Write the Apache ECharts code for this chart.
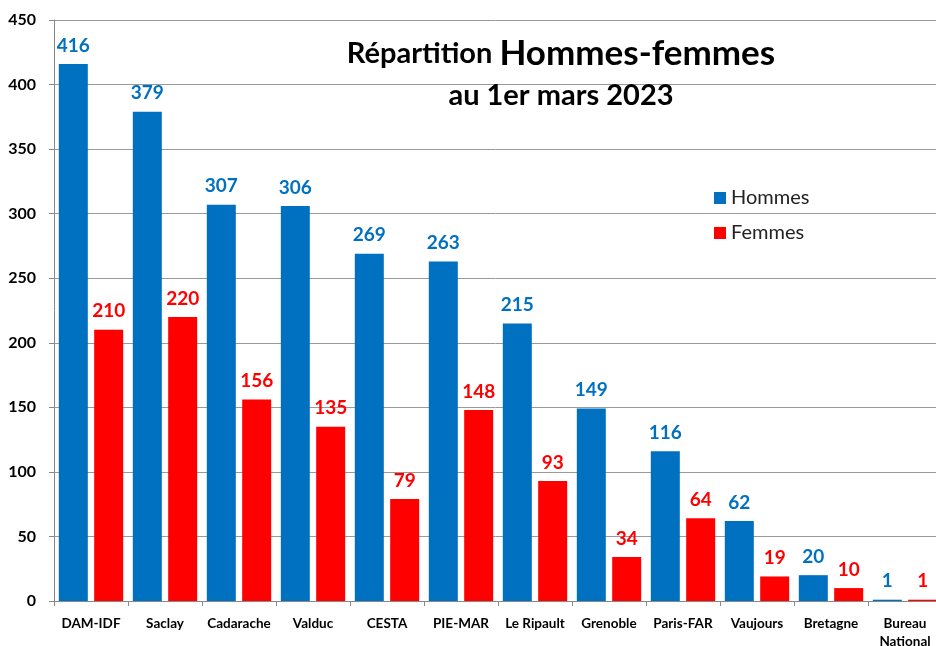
<!DOCTYPE html>
<html>
<head>
<meta charset="utf-8">
<script src="https://cdn.jsdelivr.net/npm/echarts@6/dist/echarts.min.js"></script>
<style>
  html, body { margin: 0; padding: 0; background: #fff; }
  #chart { width: 936px; height: 646px; }
</style>
</head>
<body>
<div id="chart"></div>
<script>
const categories = ['DAM-IDF', 'Saclay', 'Cadarache', 'Valduc', 'CESTA', 'PIE-MAR', 'Le Ripault', 'Grenoble', 'Paris-FAR', 'Vaujours', 'Bretagne', 'Bureau\nNational']
const hommes = [416, 379, 307, 306, 269, 263, 215, 149, 116, 62, 20, 1]
const femmes = [210, 220, 156, 135, 79, 148, 93, 34, 64, 19, 10, 1]

const font = 'Lato, "Open Sans", sans-serif'
const chart = echarts.init(document.getElementById('chart'))
chart.setOption({
  animation: false,
  textStyle: { fontFamily: font },
  title: {
    text: '{a|Répartition }{b|Hommes-femmes}\n{c|au 1er mars 2023}',
    left: 556,
    top: 27,
    textAlign: 'center',
    textStyle: {
      rich: {
        a: { fontSize: 29, fontWeight: 'bold', color: '#000', fontFamily: font, lineHeight: 44 },
        b: { fontSize: 35, fontWeight: 'bold', color: '#000', fontFamily: font, lineHeight: 44 },
        c: { fontSize: 29, fontWeight: 'bold', color: '#000', fontFamily: font, lineHeight: 40, align: 'center' }
      }
    }
  },
  legend: {
    orient: 'vertical',
    left: 709,
    top: 183,
    itemWidth: 12,
    itemHeight: 12,
    itemGap: 15,
    icon: 'rect',
    textStyle: { fontSize: 20, color: '#222', fontFamily: font },
    data: ['Hommes', 'Femmes']
  },
  // keep the plot area fixed; the last label is cut off in the original too
  grid: { left: 54, right: -6, top: 20, bottom: 45, outerBoundsMode: 'none', containLabel: false },
  xAxis: {
    type: 'category',
    data: categories,
    axisLine: { lineStyle: { color: '#888' } },
    axisTick: { show: true, length: 5, lineStyle: { color: '#888' } },
    axisLabel: { fontSize: 13.5, fontWeight: 'bold', color: '#000', margin: 14, interval: 0, lineHeight: 18 }
  },
  yAxis: {
    type: 'value',
    min: 0,
    max: 450,
    interval: 50,
    axisLine: { show: true, lineStyle: { color: '#888' } },
    axisTick: { show: true, length: 5, lineStyle: { color: '#888' } },
    splitLine: { lineStyle: { color: '#999' } },
    axisLabel: { fontSize: 16, fontWeight: 'bold', color: '#000', margin: 18 }
  },
  series: [
    {
      name: 'Hommes',
      type: 'bar',
      data: hommes,
      barWidth: 29,
      barGap: '22%',
      itemStyle: { color: '#0070C0' },
      label: { show: true, position: 'top', distance: 9, fontSize: 19, fontWeight: 'bold', color: '#0070C0' }
    },
    {
      name: 'Femmes',
      type: 'bar',
      data: femmes,
      barWidth: 29,
      itemStyle: { color: '#FF0000' },
      label: { show: true, position: 'top', distance: 9, fontSize: 19, fontWeight: 'bold', color: '#FF0000' }
    }
  ]
})
</script>
</body>
</html>
